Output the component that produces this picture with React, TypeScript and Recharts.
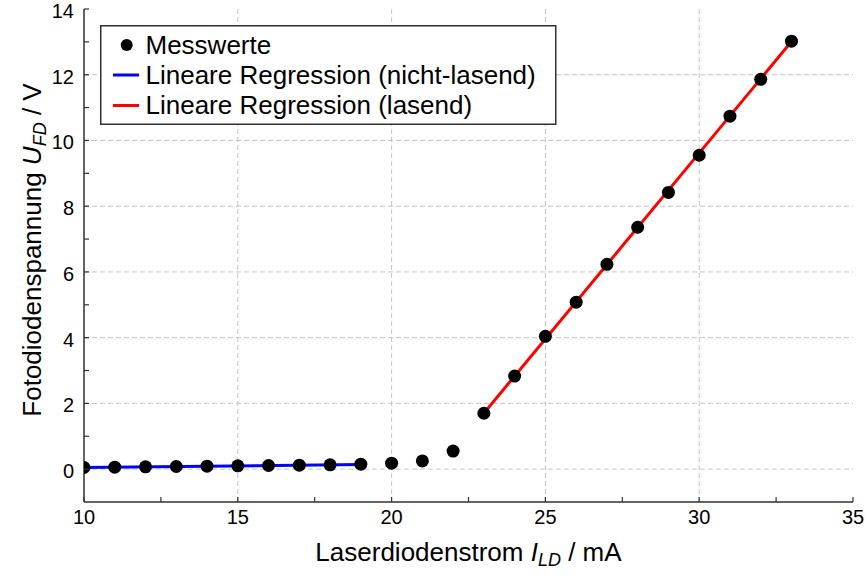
import React from "react";
import {
  CartesianGrid,
  ComposedChart,
  Legend,
  Line,
  Scatter,
  XAxis,
  YAxis,
} from "recharts";

// measured points: laser diode current (mA) vs photodiode voltage (V)
const currentMA = [
  10, 11, 12, 13, 14, 15, 16, 17, 18, 19, 20, 21, 22, 23, 24, 25, 26, 27, 28,
  29, 30, 31, 32, 33,
];
const voltageV = [
  0.05, 0.06, 0.07, 0.08, 0.09, 0.1, 0.11, 0.12, 0.13, 0.15, 0.18, 0.25, 0.55,
  1.7, 2.83, 4.04, 5.08, 6.23, 7.36, 8.42, 9.55, 10.74, 11.86, 13.02,
];

// regression lines (end points)
const fitNonLasingX = [10, 19];
const fitNonLasingY = [0.05, 0.14];
const fitLasingX = [23, 33];
const fitLasingY = [1.7, 13.01];

const xMajorTicks = [10, 15, 20, 25, 30, 35];
const xMinorTicks = [12.5, 17.5, 22.5, 27.5, 32.5];
const yMajorTicks = [0, 2, 4, 6, 8, 10, 12, 14];
const yMinorTicks = [1, 3, 5, 7, 9, 11, 13];

const legendLabels = [
  "Messwerte",
  "Lineare Regression (nicht-lasend)",
  "Lineare Regression (lasend)",
];

const FONT = "'Liberation Sans', Arial, Helvetica, sans-serif";
const AXIS = "#303030";
const TICK_LEN = 5;

const measured = currentMA.map((x, i) => ({ x, y: voltageV[i] }));
const nonLasing = fitNonLasingX.map((x, i) => ({ x, y: fitNonLasingY[i] }));
const lasing = fitLasingX.map((x, i) => ({ x, y: fitLasingY[i] }));

const xAllTicks = [...xMajorTicks, ...xMinorTicks].sort((a, b) => a - b);
const yAllTicks = [...yMajorTicks, ...yMinorTicks].sort((a, b) => a - b);

const BottomTick = (props: any) => {
  const { x, y, payload } = props;
  const major = xMajorTicks.includes(payload.value);
  return (
    <g>
      <line x1={x} x2={x} y1={y} y2={y - TICK_LEN} stroke={AXIS} strokeWidth={1.2} />
      {major && (
        <text x={x} y={y + 22} textAnchor="middle" fontSize={20} fontFamily={FONT} fill="#000">
          {payload.value}
        </text>
      )}
    </g>
  );
};

const TopTick = (props: any) => {
  const { x, y } = props;
  return <line x1={x} x2={x} y1={y} y2={y + TICK_LEN} stroke={AXIS} strokeWidth={1.2} />;
};

const LeftTick = (props: any) => {
  const { x, y, payload } = props;
  const major = yMajorTicks.includes(payload.value);
  return (
    <g>
      <line x1={x} x2={x + TICK_LEN} y1={y} y2={y} stroke={AXIS} strokeWidth={1.2} />
      {major && (
        <text x={x - 10} y={y + 9} textAnchor="end" fontSize={20} fontFamily={FONT} fill="#000">
          {payload.value}
        </text>
      )}
    </g>
  );
};

const RightTick = (props: any) => {
  const { x, y } = props;
  return <line x1={x} x2={x - TICK_LEN} y1={y} y2={y} stroke={AXIS} strokeWidth={1.2} />;
};

const XLabel = (props: any) => {
  const { viewBox } = props;
  const cx = viewBox.x + viewBox.width / 2;
  return (
    <text x={cx} y={561} textAnchor="middle" fontSize={26} fontFamily={FONT} fill="#000">
      Laserdiodenstrom <tspan fontStyle="italic">I</tspan>
      <tspan fontStyle="italic" fontSize={18} dy={5}>LD</tspan>
      <tspan dy={-5}> / mA</tspan>
    </text>
  );
};

const YLabel = () => (
  <text
    x={40.5}
    y={250}
    transform="rotate(-90 40.5 250)"
    textAnchor="middle"
    fontSize={26}
    fontFamily={FONT}
    fill="#000"
  >
    Fotodiodenspannung <tspan fontStyle="italic">U</tspan>
    <tspan fontStyle="italic" fontSize={18} dy={5}>FD</tspan>
    <tspan dy={-5}> / V</tspan>
  </text>
);

const LegendBox = () => (
  <svg width={457} height={100} style={{ display: "block" }}>
    <rect x={0.75} y={0.75} width={455} height={98.5} fill="#fff" stroke={AXIS} strokeWidth={1.5} />
    <circle cx={26.7} cy={20} r={6} fill="#000" />
    <line x1={13} x2={39} y1={50} y2={50} stroke="#0000ff" strokeWidth={3} />
    <line x1={13} x2={39} y1={80.5} y2={80.5} stroke="#ff0000" strokeWidth={3} />
    {legendLabels.map((label, i) => (
      <text key={label} x={45.5} y={28.5 + i * 30} fontSize={26} fontFamily={FONT} fill="#000">
        {label}
      </text>
    ))}
  </svg>
);

export default function App() {
  return (
    <div style={{ position: "absolute", left: 0, top: 0, background: "#fff" }}>
      <ComposedChart
        width={868}
        height={576}
        margin={{ top: 9, right: 15, left: 0, bottom: 0 }}
        style={{ fontFamily: FONT }}
      >
        <CartesianGrid
          horizontal
          vertical
          verticalValues={[15, 20, 25, 30]}
          horizontalValues={[0, 2, 4, 6, 8, 10, 12]}
          stroke="#c4c4c4"
          strokeDasharray="5 3"
          strokeWidth={1}
        />
        <XAxis
          dataKey="x"
          type="number"
          domain={[10, 35]}
          ticks={xAllTicks}
          interval={0}
          height={74}
          tickSize={0}
          tickMargin={0}
          tickLine={false}
          axisLine={{ stroke: AXIS, strokeWidth: 1.5 }}
          tick={<BottomTick />}
          allowDataOverflow
          label={<XLabel />}
        />
        <XAxis
          xAxisId="top"
          orientation="top"
          type="number"
          domain={[10, 35]}
          ticks={xAllTicks}
          interval={0}
          height={0}
          tickSize={0}
          tickMargin={0}
          tickLine={false}
          axisLine={{ stroke: AXIS, strokeWidth: 1.5 }}
          tick={<TopTick />}
          allowDataOverflow
        />
        <YAxis
          dataKey="y"
          type="number"
          domain={[-1, 14]}
          ticks={yAllTicks}
          interval={0}
          width={84}
          tickSize={0}
          tickMargin={0}
          tickLine={false}
          axisLine={{ stroke: AXIS, strokeWidth: 1.5 }}
          tick={<LeftTick />}
          allowDataOverflow
          label={<YLabel />}
        />
        <YAxis
          yAxisId="right"
          orientation="right"
          type="number"
          domain={[-1, 14]}
          ticks={yAllTicks}
          interval={0}
          width={0}
          tickSize={0}
          tickMargin={0}
          tickLine={false}
          axisLine={{ stroke: AXIS, strokeWidth: 1.5 }}
          tick={<RightTick />}
          allowDataOverflow
        />
        <Legend
          layout="vertical"
          align="center"
          verticalAlign="middle"
          content={<LegendBox />}
          wrapperStyle={{ left: 100, top: 25, width: 457, height: 100 }}
        />
        <Scatter
          name="Messwerte"
          data={measured}
          dataKey="y"
          fill="#000"
          isAnimationActive={false}
          shape={(p: any) => <circle cx={p.cx} cy={p.cy} r={6.5} fill="#000" />}
        />
        <Line
          name="Lineare Regression (nicht-lasend)"
          data={nonLasing}
          dataKey="y"
          type="linear"
          stroke="#0000ff"
          strokeWidth={3}
          dot={false}
          activeDot={false}
          isAnimationActive={false}
        />
        <Line
          name="Lineare Regression (lasend)"
          data={lasing}
          dataKey="y"
          type="linear"
          stroke="#ff0000"
          strokeWidth={3}
          dot={false}
          activeDot={false}
          isAnimationActive={false}
        />
      </ComposedChart>
    </div>
  );
}
